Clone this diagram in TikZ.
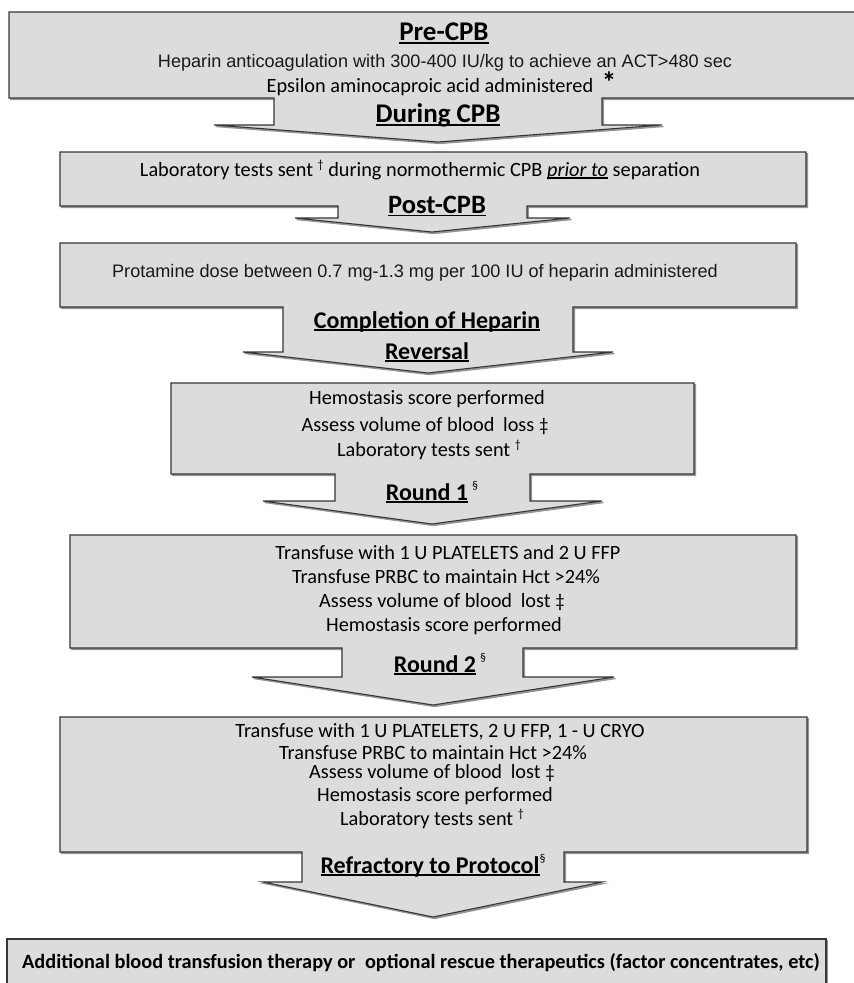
\documentclass[tikz,border=0pt]{standalone}
\usepackage{fontspec}
\newfontfamily\calib{Carlito}
\newfontfamily\arialf{Liberation Sans}
\definecolor{boxfill}{RGB}{220,220,220}
\definecolor{boxline}{RGB}{55,55,55}
\definecolor{shadowc}{RGB}{150,150,150}
\newcommand\ulx[1]{\leavevmode\setbox0\hbox{#1}\rlap{\raisebox{-0.13em}{\rule{\wd0}{0.07em}}}\box0\relax}
\newcommand\titlef{\calib\bfseries\fontsize{24}{29}\selectfont}
\newcommand\bigtitlef{\calib\bfseries\fontsize{27}{32}\selectfont}
\newcommand\bodyf{\calib\fontsize{20.3}{24}\selectfont}
\newcommand\arialtxt{\arialf\fontsize{18.1}{21}\selectfont}
\newcommand\supdag{\raisebox{0.35em}{\fontsize{12}{12}\selectfont\mdseries\dag}}
\newcommand\supsec{\raisebox{0.45em}{\fontsize{12}{12}\selectfont\mdseries\S}}
\newcommand\ddg{{\fontsize{19}{19}\selectfont\ddag}}
\begin{document}
\begin{tikzpicture}[x=1pt,y=-1pt,
  callout/.style={fill=boxfill, draw=boxline, line width=1.1pt, line join=miter,
    preaction={fill=shadowc, draw=shadowc, line width=1.1pt, transform canvas={shift={(1.6pt,-1.6pt)}}}},
  title/.style={font=\titlef, anchor=base, inner sep=0pt, text=black},
  bigtitle/.style={font=\bigtitlef, anchor=base, inner sep=0pt, text=black},
  body/.style={font=\bodyf, anchor=base, inner sep=0pt, text=black},
  arial/.style={font=\arialtxt, anchor=base, inner sep=0pt, text=black!90}]
\useasboundingbox[fill=white] (0,0) rectangle (854,983);

% Box 1 with arrow
\path[callout] (9,12) -- (860,12) -- (860,98) -- (602,98) -- (602,125) -- (662,125) -- (438,142)
  -- (214,125) -- (274,125) -- (274,98) -- (9,98) -- cycle;
% Box 2
\path[callout] (60,152) -- (806,152) -- (806,206) -- (527,206) -- (527,218) -- (570,218) -- (432,232)
  -- (295,218) -- (338,218) -- (338,206) -- (60,206) -- cycle;
% Box 3
\path[callout] (60,243) -- (796,243) -- (796,307) -- (573,307) -- (573,352) -- (613,352) -- (428,373)
  -- (243,352) -- (283,352) -- (283,307) -- (60,307) -- cycle;
% Box 4
\path[callout] (171,383) -- (694,383) -- (694,474) -- (530,474) -- (530,501) -- (602,501) -- (432,524)
  -- (263,501) -- (335,501) -- (335,474) -- (171,474) -- cycle;
% Box 5
\path[callout] (70,535) -- (796,535) -- (796,648) -- (523,648) -- (523,677) -- (614,677) -- (433,705)
  -- (252,677) -- (342,677) -- (342,648) -- (70,648) -- cycle;
% Box 6
\path[callout] (60,717) -- (807,717) -- (807,852) -- (564,852) -- (564,882) -- (602,882) -- (433,917)
  -- (263,882) -- (302,882) -- (302,852) -- (60,852) -- cycle;
% Box 7
\path[callout] (7,939) -- (826,939) -- (826,995) -- (7,995) -- cycle;

% Texts box 1
\node[bigtitle] (pre) at (444,40) {\ulx{Pre-CPB}};
\node[arial] (hep) at (445,67) {Heparin anticoagulation with 300-400 IU/kg to achieve an ACT>480 sec};
\node[body] (eps) at (430,92.5) {Epsilon aminocaproic acid administered};
\node[font=\calib\bfseries\fontsize{29}{29}\selectfont, inner sep=0pt, anchor=base] (ast) at (609,92) {*};
\node[bigtitle] (during) at (438,122) {\ulx{During CPB}};

% Box 2
\node[body] (lab1) at (420,176) {Laboratory tests sent \supdag{} during normothermic CPB \ulx{\textit{prior to}} separation};
\node[bigtitle, font=\calib\bfseries\fontsize{26.5}{30}\selectfont] (post) at (437,213) {\ulx{Post-CPB}};

% Box 3
\node[arial] (prot) at (415,277) {Protamine dose between 0.7 mg-1.3 mg per 100 IU of heparin administered};
\node[title] (comp) at (427,328) {\ulx{Completion of Heparin}};
\node[title] (rev) at (427,359) {\ulx{Reversal}};

% Box 4
\node[body] (h4a) at (427,404) {Hemostasis score performed};
\node[body] (h4b) at (425,431) {Assess volume of blood\hspace{0.2em} loss \ddg};
\node[body] (h4c) at (429,456) {Laboratory tests sent \supdag};
\node[title] (r1) at (432,500) {\ulx{Round 1}\,\supsec};

% Box 5
\node[body] (t5a) at (448,559) {Transfuse with 1 U PLATELETS and 2 U FFP};
\node[body] (t5b) at (446,583) {Transfuse PRBC to maintain Hct >24\%};
\node[body] (t5c) at (442,607) {Assess volume of blood\hspace{0.2em} lost \ddg};
\node[body] (t5d) at (444,631) {Hemostasis score performed};
\node[title] (r2) at (440,672) {\ulx{Round 2}\,\supsec};

% Box 6
\node[body] (t6a) at (440,737) {Transfuse with 1 U PLATELETS, 2 U FFP, 1 - U CRYO};
\node[body] (t6b) at (433,759) {Transfuse PRBC to maintain Hct >24\%};
\node[body] (t6c) at (432,778) {Assess volume of blood\hspace{0.2em} lost \ddg};
\node[body] (t6d) at (435,801) {Hemostasis score performed};
\node[body] (t6e) at (432,825) {Laboratory tests sent \supdag};
\node[title] (ref) at (433,873) {\ulx{Refractory to Protocol}\supsec};

% Box 7
\node[body, font=\calib\bfseries\fontsize{20.3}{24}\selectfont] (add) at (421,968) {Additional blood transfusion therapy or\hspace{0.25em} optional rescue therapeutics (factor concentrates, etc)};
\end{tikzpicture}
\end{document}
